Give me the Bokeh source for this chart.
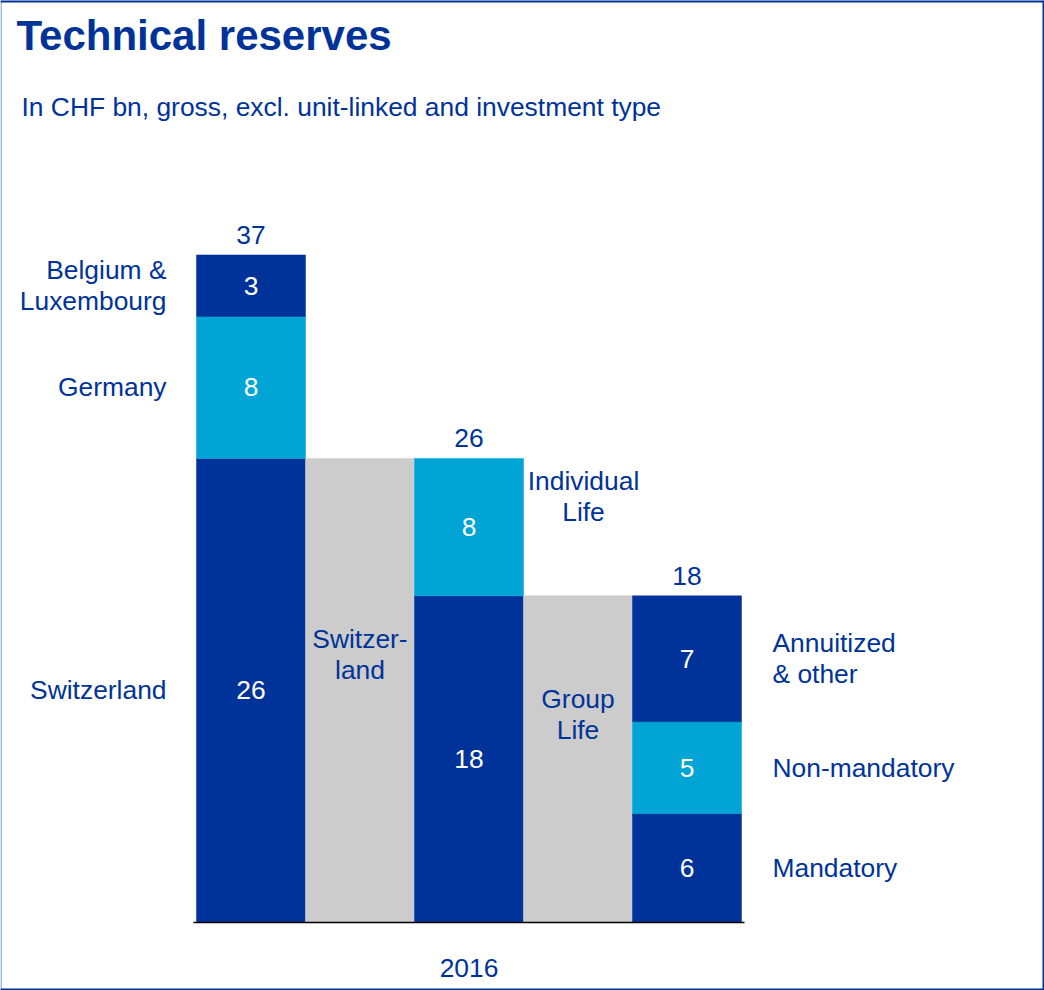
from bokeh.plotting import figure
from bokeh.models import Range1d, Span, Label, ColumnDataSource
from bokeh.core.properties import value
from bokeh.embed import file_html
from bokeh.resources import INLINE

# ---------------- data ----------------
title = "Technical reserves"
subtitle = "In CHF bn, gross, excl. unit-linked and investment type"
year_label = "2016"

country_names = ["Switzerland", "Germany", "Belgium &\nLuxembourg"]
country_values = [26.0, 7.95, 3.45]
country_texts = ["26", "8", "3"]

swiss_bridge_label = "Switzer-\nland"

business_names = ["Group Life", "Individual\nLife"]
business_values = [18.3, 7.7]
business_texts = ["18", "8"]

group_bridge_label = "Group\nLife"

group_names = ["Mandatory", "Non-mandatory", "Annuitized\n& other"]
group_values = [6.1, 5.15, 7.05]
group_texts = ["6", "5", "7"]

total_texts = ["37", "26", "18"]

# ---------------- style ----------------
DARK = "#003399"
LIGHT = "#00A5D6"
GREY = "#CCCCCC"
TXT = "#003399"
FONT = value("Liberation Sans")
FS = "26.4px"
LH = 1.04

W, H = 1044, 990
px_x = 109.0      # pixels per bar slot
px_y = 17.85      # pixels per CHF bn
x0 = 1 - 250.5 / px_x
y0 = -68 / px_y

p = figure(width=W, height=H, output_backend="svg", toolbar_location=None,
           x_range=Range1d(x0, x0 + W / px_x), y_range=Range1d(y0, y0 + H / px_y),
           x_axis_location=None, y_axis_location=None, min_border=0)
p.grid.visible = False
p.outline_line_color = None
p.background_fill_color = "white"
p.border_fill_color = "white"

# ---------------- bars ----------------
seg_x, seg_b, seg_t, seg_c, seg_txt = [], [], [], [], []

def stack(xpos, vals, colors, texts):
    b = 0.0
    for v, c, t in zip(vals, colors, texts):
        seg_x.append(xpos); seg_b.append(b); seg_t.append(b + v); seg_c.append(c); seg_txt.append(t)
        b += v

stack(1, country_values, [DARK, LIGHT, DARK], country_texts)
stack(2, [country_values[0]], [GREY], [""])
stack(3, business_values, [DARK, LIGHT], business_texts)
stack(4, [business_values[0]], [GREY], [""])
stack(5, group_values, [DARK, LIGHT, DARK], group_texts)

src = ColumnDataSource(dict(x=seg_x, bottom=seg_b, top=seg_t, color=seg_c, txt=seg_txt,
                            mid=[(b + t) / 2 for b, t in zip(seg_b, seg_t)]))
p.vbar(x="x", width=1.0, bottom="bottom", top="top", fill_color="color",
       line_color="color", line_width=0.5, source=src)

# values inside segments
p.text(x="x", y="mid", text="txt", source=src, text_font=FONT, text_font_size=FS,
       text_color="white", text_align="center", text_baseline="middle")

# totals
tot_x = [1, 3, 5]
tot_y = [sum(country_values), sum(business_values), sum(group_values)]
p.text(x=tot_x, y=tot_y, text=total_texts, text_font=FONT, text_font_size=FS,
       text_color=TXT, text_align="center", text_baseline="middle", y_offset=-20)

# baseline
p.line(x=[0.5 - 3 / px_x, 5.5 + 3 / px_x], y=[0, 0], line_color="black", line_width=1.6)

# left labels (countries)
c_mid = []
b = 0.0
for v in country_values:
    c_mid.append(b + v / 2); b += v
p.text(x=[0.5] * 3, y=c_mid, text=country_names, text_font=FONT, text_font_size=FS,
       text_color=TXT, text_align="right", text_baseline="middle", x_offset=-30,
       text_line_height=LH)

# bridge labels
p.text(x=[2], y=[country_values[0] / 2], text=[swiss_bridge_label], text_font=FONT,
       text_font_size=FS, text_color=TXT, text_align="center", text_baseline="middle",
       y_offset=-36, text_line_height=LH)
p.text(x=[4], y=[business_values[0] / 2], text=[group_bridge_label], text_font=FONT,
       text_font_size=FS, text_color=TXT, text_align="center", text_baseline="middle",
       y_offset=-45, text_line_height=LH)

# individual life label
p.text(x=[3.5], y=[business_values[0] + business_values[1] / 2], text=[business_names[1]],
       text_font=FONT, text_font_size=FS, text_color=TXT, text_align="center",
       text_baseline="middle", x_offset=60, y_offset=-31, text_line_height=LH)

# right labels (group life split)
g_mid = []
b = 0.0
for v in group_values:
    g_mid.append(b + v / 2); b += v
p.text(x=[5.5] * 3, y=g_mid, text=group_names, text_font=FONT, text_font_size=FS,
       text_color=TXT, text_align="left", text_baseline="middle", x_offset=31,
       text_line_height=LH)

# year label
p.text(x=[3], y=[0], text=[year_label], text_font=FONT, text_font_size=FS,
       text_color=TXT, text_align="center", text_baseline="middle", y_offset=45)

# title & subtitle
p.add_layout(Label(x=16, y=H - 35, x_units="screen", y_units="screen", text=title,
                   text_font="Liberation Sans", text_font_size="42px", text_font_style="bold",
                   text_color=TXT, text_baseline="alphabetic"))
p.add_layout(Label(x=21, y=H - 106, x_units="screen", y_units="screen", text=subtitle,
                   text_font="Liberation Sans", text_font_size="26.4px",
                   text_color=TXT, text_baseline="alphabetic"))

# frame border
xr, yr = p.x_range, p.y_range
p.add_layout(Span(location=xr.start, dimension="height", line_color="#A9C0E4", line_width=3))
p.add_layout(Span(location=xr.end, dimension="height", line_color=DARK, line_width=4))
p.add_layout(Span(location=yr.end, dimension="width", line_color=DARK, line_width=4))
p.add_layout(Span(location=yr.start, dimension="width", line_color=DARK, line_width=4))

open("out.html", "w").write(file_html(p, INLINE))
